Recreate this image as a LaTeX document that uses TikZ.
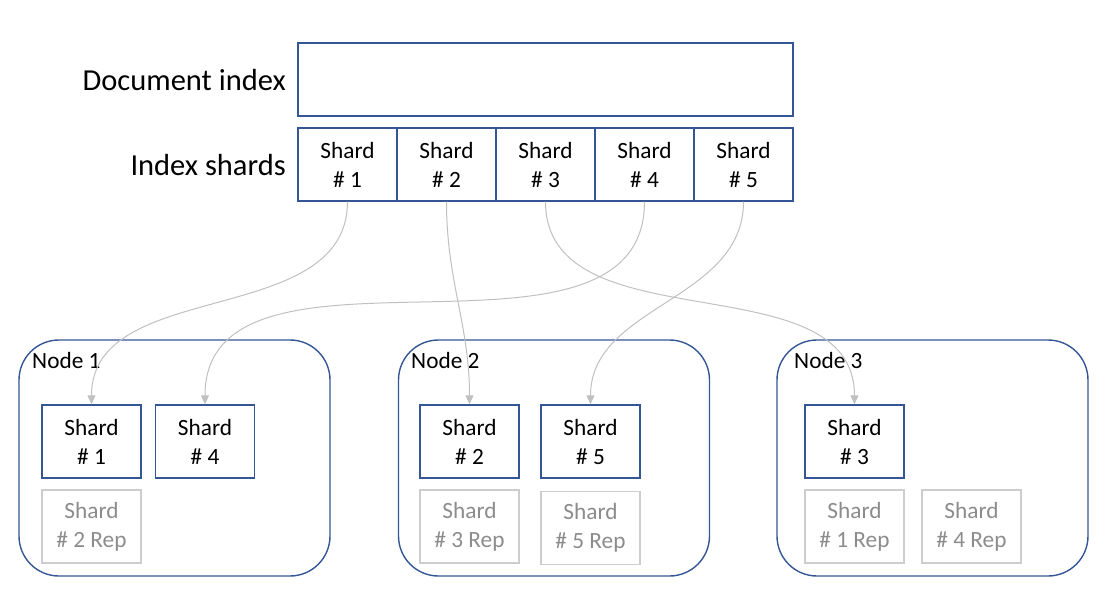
\documentclass[tikz,border=0pt]{standalone}
\usepackage{fontspec}
\setmainfont{Carlito}
\usetikzlibrary{arrows.meta}
\definecolor{shard-blue}{RGB}{52,86,148}
\definecolor{link-gray}{RGB}{192,192,192}
\definecolor{rep-gray}{RGB}{205,205,205}
\definecolor{rep-text}{RGB}{140,140,140}

\begin{document}
\begin{tikzpicture}[x=1pt,y=-1pt,
  shardbox/.style={draw=shard-blue, line width=1.4pt, minimum width=99pt, minimum height=73pt,
    inner sep=0pt, align=center, font=\fontsize{23.3}{29}\selectfont},
  repbox/.style={shardbox, draw=rep-gray, text=rep-text},
  hostbox/.style={draw=shard-blue, line width=1.4pt, rounded corners=40pt,
    minimum width=311pt, minimum height=236pt},
  hostlabel/.style={anchor=north west, inner sep=0pt, font=\fontsize{23.3}{28}\selectfont},
  rowlabel/.style={anchor=east, inner sep=0pt, font=\fontsize{30.5}{36}\selectfont},
  link/.style={draw=link-gray, line width=1pt, -{Triangle[length=9pt,width=8pt]}}]
 \useasboundingbox (0,0) rectangle (1112,607);
 %index
 \node[shardbox, minimum width=495pt] (docidx) at (545.5,79.5) {};
 \node[rowlabel] (docidxlbl) at (286,80.5) {Document index};
 \foreach \i in {1,...,5}
  \node[shardbox] (s\i) at (248.5+99*\i,164.5) {Shard\\\# \i};
 \node[rowlabel] (shardlbl) at (286,165.5) {Index shards};
 %nodes
 \node[hostbox] (n1) at (174.5,458) {};
 \node[hostbox] (n2) at (554,458) {};
 \node[hostbox] (n3) at (932.5,458) {};
 \node[hostlabel] at (32,352) {Node 1};
 \node[hostlabel] at (411,352) {Node 2};
 \node[hostlabel] at (794,352) {Node 3};
 %shards on node 1
 \node[shardbox] (n1s1) at (91.5,441.5) {Shard\\\# 1};
 \node[shardbox] (n1s4) at (205,441.5) {Shard\\\# 4};
 \node[repbox] (n1r2) at (91.5,526.5) {Shard\\\# 2 Rep};
 %shards on node 2
 \node[shardbox] (n2s2) at (469.5,441.5) {Shard\\\# 2};
 \node[shardbox] (n2s5) at (590.5,441.5) {Shard\\\# 5};
 \node[repbox] (n2r3) at (469.5,526.5) {Shard\\\# 3 Rep};
 \node[repbox] (n2r5) at (590.5,528) {Shard\\\# 5 Rep};
 %shards on node 3
 \node[shardbox] (n3s3) at (854.5,441.5) {Shard\\\# 3};
 \node[repbox] (n3r1) at (854.5,526.5) {Shard\\\# 1 Rep};
 \node[repbox] (n3r4) at (971.5,526.5) {Shard\\\# 4 Rep};
 %allocation
 \draw[link] (s1.south) to[out=-90, in=90] (n1s1.north);
 \draw[link] (s2.south) to[out=-90, in=90] (n2s2.north);
 \draw[link] (s3.south) to[out=-90, in=90] (n3s3.north);
 \draw[link] (s4.south) to[out=-90, in=90] (n1s4.north);
 \draw[link] (s5.south) to[out=-90, in=90] (n2s5.north);
\end{tikzpicture}
\end{document}
